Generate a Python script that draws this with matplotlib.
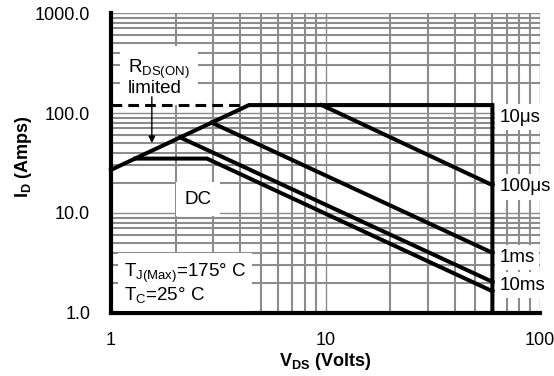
# -*- coding: utf-8 -*-
"""
Safe operating area, drain current vs drain-source voltage (log-log)
"""
import numpy as np
import matplotlib
matplotlib.use('Agg')
import matplotlib.pyplot as plt
from matplotlib.ticker import FixedLocator, NullFormatter

plt.rcParams['font.family'] = ['Liberation Sans', 'DejaVu Sans']
plt.rcParams['mathtext.fontset'] = 'custom'
plt.rcParams['mathtext.rm'] = 'Liberation Sans'
plt.rcParams['mathtext.it'] = 'Liberation Sans:italic'
plt.rcParams['mathtext.bf'] = 'Liberation Sans:bold'

#===========================================================
#               data (V, A)
#===========================================================
v_lim = [1.0, 4.4]                 # RDS(on) limit (dashed part at 120 A)
i_lim = [120.0, 120.0]

v_10us = [1.0, 4.4, 60.0, 60.0]
i_10us = [27.0, 120.0, 120.0, 1.0]

v_100us = [9.6, 60.0]
i_100us = [120.0, 19.0]

v_1ms = [2.95, 60.0]
i_1ms = [80.0, 4.0]

v_10ms = [2.1, 60.0]
i_10ms = [57.0, 2.05]

v_dc = [1.3, 2.8, 60.0]
i_dc = [35.0, 35.0, 1.65]

x_ticks = [1, 10, 100]
x_ticklabels = ['1', '10', '100']
y_ticks = [1, 10, 100, 1000]
y_ticklabels = ['1.0', '10.0', '100.0', '1000.0']

#===========================================================
#               figure
#===========================================================
fig = plt.figure(figsize=(5.54, 3.76), dpi=100)
ax = fig.add_axes([0.2004, 0.1676, 0.7743, 0.7978])
ax.set_xscale('log')
ax.set_yscale('log')
ax.set_xlim(1, 100)
ax.set_ylim(1, 1000)

minor = [m * 10.0**e for e in range(0, 3) for m in range(2, 10)]
ax.xaxis.set_major_locator(FixedLocator(x_ticks))
ax.yaxis.set_major_locator(FixedLocator(y_ticks))
ax.xaxis.set_minor_locator(FixedLocator(minor))
ax.yaxis.set_minor_locator(FixedLocator(minor))
ax.xaxis.set_minor_formatter(NullFormatter())
ax.yaxis.set_minor_formatter(NullFormatter())
ax.set_xticklabels(x_ticklabels)
ax.set_yticklabels(y_ticklabels)
ax.tick_params(which='both', length=0)
ax.tick_params(axis='x', which='major', pad=14, labelsize=13)
ax.tick_params(axis='y', which='major', pad=15, labelsize=13)

ax.set_axisbelow(True)
ax.grid(which='minor', color='#8c8c8c', lw=1.5)
ax.grid(which='major', color='#8c8c8c', lw=1.0)

for s in ['top', 'right']:
    ax.spines[s].set_visible(False)
for s in ['left', 'bottom']:
    ax.spines[s].set_linewidth(3.0)
    ax.spines[s].set_color('k')

#===========================================================
#               curves
#===========================================================
kw = dict(color='k', lw=2.9, solid_joinstyle='miter', zorder=5, clip_on=False)
ax.plot(v_lim, i_lim, ls=(0, (3.5, 2.0)), color='k', lw=2.2, zorder=5)
ax.plot(v_10us, i_10us, **kw)
ax.plot(v_100us, i_100us, **kw)
ax.plot(v_1ms, i_1ms, **kw)
ax.plot(v_10ms, i_10ms, **kw)
ax.plot(v_dc, i_dc, **kw)

#===========================================================
#               labels
#===========================================================
fs = 13.5
box = dict(facecolor='white', edgecolor='none', pad=3)
ax.text(64.5, 91, '10μs', fontsize=fs, ha='left', va='center', bbox=box, zorder=3)
ax.text(64.5, 18.2, '100μs', fontsize=fs, ha='left', va='center', bbox=box, zorder=3)
ax.text(64.5, 3.6, '1ms', fontsize=fs, ha='left', va='center', bbox=box, zorder=3)
ax.text(64.5, 1.9, '10ms', fontsize=fs, ha='left', va='center', bbox=box, zorder=3)

ax.text(2.54, 13.8, 'DC', fontsize=fs, ha='center', va='center',
        bbox=dict(facecolor='white', edgecolor='none', pad=6), zorder=3)

ax.text(1.2, 145, '$\\mathregular{R_{DS(ON)}}$\nlimited', fontsize=fs,
        ha='left', va='bottom', linespacing=0.9,
        bbox=dict(facecolor='white', edgecolor='none', pad=6), zorder=3)
ax.annotate('', xy=(1.55, 50), xytext=(1.55, 145),
            arrowprops=dict(arrowstyle='-|>', color='k', lw=1.0,
                            mutation_scale=10, shrinkA=0, shrinkB=0), zorder=4)

ax.text(1.15, 1.2, '$\\mathregular{T_{J(Max)}}$=175° C\n$\\mathregular{T_C}$=25° C',
        fontsize=fs, ha='left', va='bottom', linespacing=1.0,
        bbox=dict(facecolor='white', edgecolor='none', pad=4), zorder=3)

ax.set_xlabel('$\\mathbf{V_{DS}}$ (Volts)', fontsize=13, fontweight='bold')
ax.set_ylabel('$\\mathbf{I_{D}}$ (Amps)', fontsize=13, fontweight='bold')
ax.xaxis.set_label_coords(0.5, -0.127)
ax.yaxis.set_label_coords(-0.18, 0.52)
ax.xaxis.label.set_va('top')

plt.savefig('out.png', dpi=100)
